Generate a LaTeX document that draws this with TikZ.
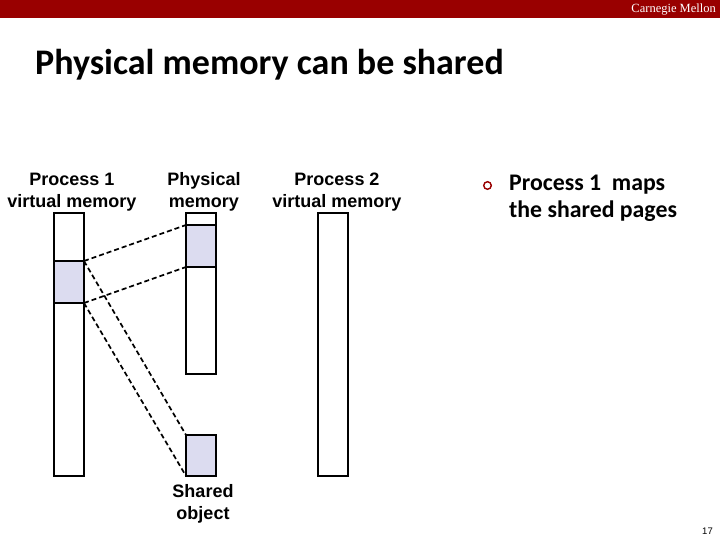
\documentclass[tikz,border=0pt]{standalone}
\usepackage{fontspec}
\setmainfont{Liberation Sans}
\newfontfamily\carlitofont{Carlito}
\newfontfamily\tmsfont{Liberation Serif}
\definecolor{cmured}{HTML}{990000}
\definecolor{shade}{HTML}{DCDCF0}
\begin{document}
\begin{tikzpicture}[x=1pt,y=-1pt,
  mem/.style={draw=black,line width=2pt,fill=white},
  shd/.style={draw=black,line width=2pt,fill=shade},
  lbl/.style={font=\fontsize{18}{22}\selectfont\bfseries,align=center,inner sep=0pt,anchor=north},
  map/.style={line width=1.7pt,dash pattern=on 5pt off 3pt}]
\useasboundingbox (0,0) rectangle (720,540);
\fill[white] (0,0) rectangle (720,540);
\fill[cmured] (0,0) rectangle (720,18);
\node[anchor=east,text=white,inner sep=0pt,font=\tmsfont\fontsize{12.5}{14}\selectfont] (cmu) at (716,9.5) {Carnegie Mellon};
\node[anchor=base west,inner sep=0pt,font=\carlitofont\bfseries\fontsize{36}{42}\selectfont] (title) at (35,75) {Physical memory can be shared};
% labels
\node[lbl] (l1) at (72,169.6) {\strut Process 1\\virtual memory};
\node[lbl] (l2) at (204,169.6) {\strut Physical\\memory};
\node[lbl] (l3) at (337,169.6) {\strut Process 2\\virtual memory};
\node[lbl] (l4) at (203,481.6) {\strut Shared\\object};
% boxes
\draw[mem] (54,213) rectangle (84,476);
\draw[shd] (54,261) rectangle (84,303);
\coordinate (p1a) at (84,261);
\coordinate (p1b) at (84,303);
\draw[mem] (186,213) rectangle (216,374);
\draw[shd] (186,225) rectangle (216,267);
\coordinate (pma) at (186,225);
\coordinate (pmb) at (186,267);
\draw[shd] (186,435) rectangle (216,476);
\coordinate (soa) at (186,435);
\coordinate (sob) at (186,476);
\draw[mem] (318,213) rectangle (348,476);
% mappings
\draw[map] (p1a) -- (pma);
\draw[map] (p1b) -- (pmb);
\draw[map] (p1a) -- (soa);
\draw[map] (p1b) -- (sob);
% bullet
\draw[cmured,line width=1.4pt] (487.5,185.5) circle (3.8);
\node[anchor=base west,inner sep=0pt,font=\carlitofont\bfseries\fontsize{23.8}{30}\selectfont] (b1) at (509,191) {Process 1\ \ maps};
\node[anchor=base west,inner sep=0pt,font=\carlitofont\bfseries\fontsize{23.8}{30}\selectfont] (b2) at (509,218) {the shared pages};
\node[anchor=base east,inner sep=0pt,font=\fontsize{9.5}{11}\selectfont] (pg) at (713,534) {17};
\end{tikzpicture}
\end{document}
